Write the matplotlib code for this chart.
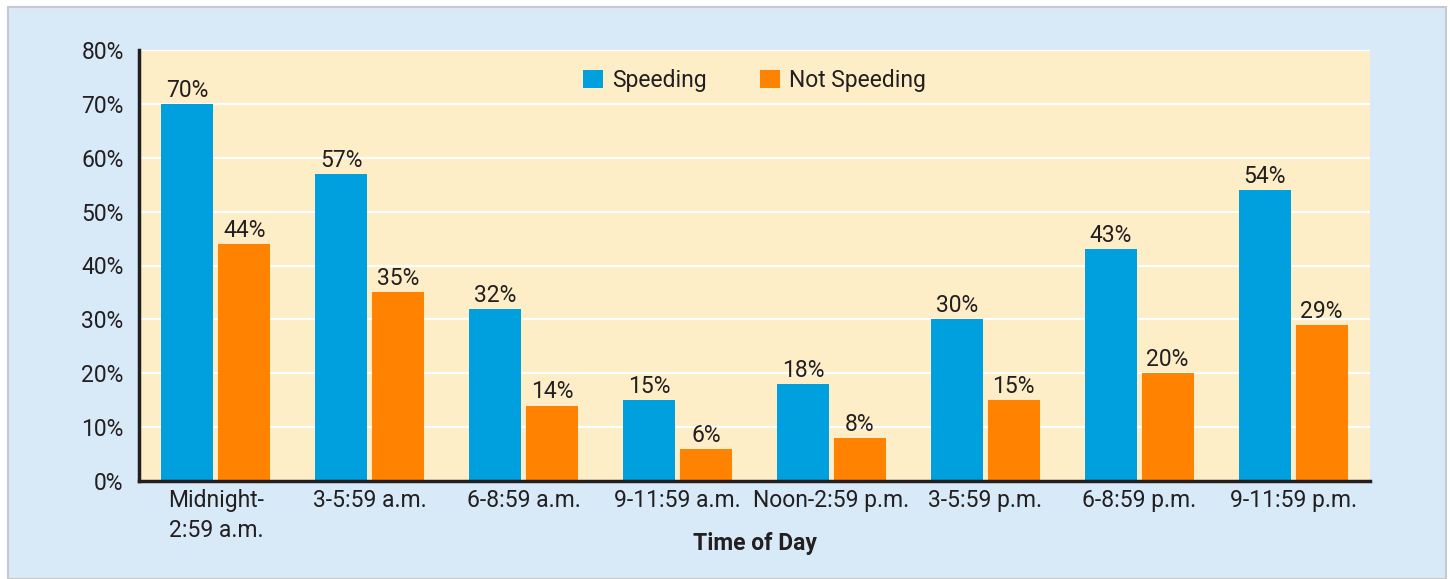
import matplotlib
matplotlib.use("Agg")
import matplotlib.pyplot as plt
from matplotlib.patches import Rectangle, Patch
import numpy as np

plt.rcParams['font.family'] = ['Roboto', 'DejaVu Sans']

categories = ["Midnight-\n2:59 a.m.", "3-5:59 a.m.", "6-8:59 a.m.", "9-11:59 a.m.",
              "Noon-2:59 p.m.", "3-5:59 p.m.", "6-8:59 p.m.", "9-11:59 p.m."]
speeding = [70, 57, 32, 15, 18, 30, 43, 54]
not_speeding = [44, 35, 14, 6, 8, 15, 20, 29]
series_names = ["Speeding", "Not Speeding"]
y_ticks = [0, 10, 20, 30, 40, 50, 60, 70, 80]

blue = "#00a0de"
orange = "#ff8200"
plot_bg = "#feeec7"
panel_bg = "#d8e9f7"
text_col = "#231f20"
fs = 16.5

W, H = 1450, 579
fig = plt.figure(figsize=(W / 100, H / 100), dpi=100, facecolor="white")

# outer tinted panel
fig.patches.append(Rectangle((8 / W, 0), (1446 - 8) / W, (H - 7) / H,
                             transform=fig.transFigure, facecolor=panel_bg,
                             edgecolor="#c3cbd0", linewidth=1.5, zorder=-5))

ax = fig.add_axes([139 / W, (H - 481) / H, (1370 - 139) / W, (481 - 50) / H])
ax.set_facecolor(plot_bg)

x = np.arange(len(categories))
bw = 0.338
off = 0.185
b1 = ax.bar(x - off, speeding, bw, color=blue, zorder=3)
b2 = ax.bar(x + off, not_speeding, bw, color=orange, zorder=3)

for bars, vals in ((b1, speeding), (b2, not_speeding)):
    for r, v in zip(bars, vals):
        ax.annotate(f"{v}%", (r.get_x() + r.get_width() / 2, v),
                    xytext=(0, 1.5), textcoords="offset points",
                    ha="center", va="bottom", fontsize=fs, color=text_col)

ax.set_xlim(-0.5, len(categories) - 0.5)
ax.set_ylim(0, 80)
ax.set_yticks(y_ticks)
ax.set_yticklabels([f"{t}%" for t in y_ticks], fontsize=fs, color=text_col)
ax.set_xticks(x)
ax.set_xticklabels(categories, fontsize=fs, color=text_col, linespacing=1.35, va="top")
ax.tick_params(axis="both", length=0)
ax.tick_params(axis="y", pad=11)
ax.tick_params(axis="x", pad=6)

ax.grid(axis="y", color="white", linewidth=1.5, zorder=1)
ax.set_axisbelow(True)
for s in ("top", "right"):
    ax.spines[s].set_visible(False)
for s in ("left", "bottom"):
    ax.spines[s].set_linewidth(2.5)
    ax.spines[s].set_color(text_col)
    ax.spines[s].set_zorder(4)

ax.set_xlabel("Time of Day", fontsize=fs, fontweight="bold", color=text_col)
ax.xaxis.set_label_coords(0.5, -0.118)

handles = [Patch(facecolor=blue), Patch(facecolor=orange)]
ax.legend(handles, series_names, loc="center", bbox_to_anchor=(0.5, 0.93), ncol=2,
          frameon=False, fontsize=fs, handlelength=0.85, handleheight=0.85,
          handletextpad=0.4, columnspacing=2.35, labelcolor=text_col)

fig.savefig("out.png", dpi=100, facecolor="white")
